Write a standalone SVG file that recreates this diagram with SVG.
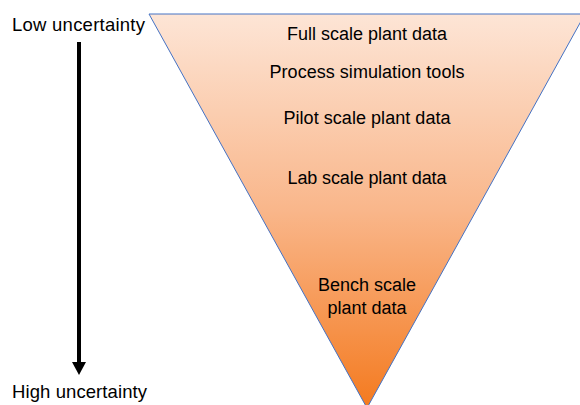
<svg xmlns="http://www.w3.org/2000/svg" width="580" height="405" viewBox="0 0 580 405">
<defs>
<linearGradient id="g" x1="0" y1="14" x2="0" y2="408" gradientUnits="userSpaceOnUse">
<stop offset="0" stop-color="#FDE5D6"/>
<stop offset="0.5" stop-color="#F9B68A"/>
<stop offset="1" stop-color="#F47A1F"/>
</linearGradient>
<style>
text{font-family:"Liberation Sans",Arial,sans-serif;font-size:18px;fill:#000}
.c{text-anchor:middle}
.s{font-size:18.5px}
</style>
</defs>
<rect width="580" height="405" fill="#fff"/>
<g id="funnel">
<polygon points="149,14 585,14 367,408" fill="url(#g)" stroke="#4472C4" stroke-width="1"/>
<text class="c" x="367" y="40" textLength="160">Full scale plant data</text>
<text class="c" x="367" y="78" textLength="195">Process simulation tools</text>
<text class="c" x="367" y="124" textLength="167">Pilot scale plant data</text>
<text class="c" x="367" y="184" textLength="159">Lab scale plant data</text>
<text class="c" x="367" y="291">Bench scale</text>
<text class="c" x="367" y="314">plant data</text>
</g>
<g id="low"><text class="s" x="12" y="31" textLength="133">Low uncertainty</text></g>
<g id="high"><text class="s" x="12" y="398" textLength="135">High uncertainty</text></g>
<g id="connectors">
<line x1="79" y1="42" x2="79" y2="363" stroke="#000" stroke-width="4"/>
<polygon points="72,362 86,362 79,375" fill="#000"/>
</g>
</svg>
